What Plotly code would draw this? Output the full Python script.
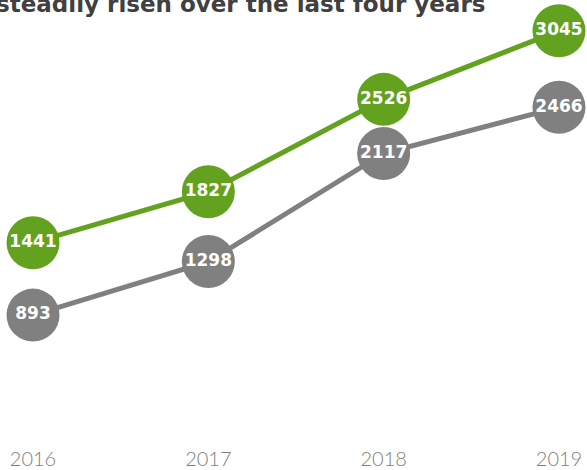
import plotly.graph_objects as go

years = [2016, 2017, 2018, 2019]
series_green = [1441, 1827, 2526, 3045]
series_gray = [893, 1298, 2117, 2466]
title_text = "steadily risen over the last four years"

GREEN = "#62a21f"
GRAY = "#808080"

fig = go.Figure()
for vals, col in [(series_gray, GRAY), (series_green, GREEN)]:
    fig.add_trace(go.Scatter(
        x=years, y=vals, mode="lines+markers+text",
        line=dict(color=col, width=5),
        marker=dict(color=col, size=53, line=dict(width=0)),
        text=[str(v) for v in vals], textposition="middle center",
        textfont=dict(color="white", size=17, family="DejaVu Sans", weight="bold"),
        cliponaxis=False, showlegend=False, hoverinfo="skip",
    ))

fig.add_annotation(
    text="<b>" + title_text + "</b>", xref="paper", yref="paper",
    x=487 / 587, y=1 - 4 / 448, xanchor="right", yanchor="middle",
    showarrow=False, font=dict(size=23, color="#404040", family="DejaVu Sans"),
)

fig.update_layout(
    width=587, height=470,
    margin=dict(l=0, r=0, t=0, b=22),
    paper_bgcolor="white", plot_bgcolor="white",
    xaxis=dict(range=[2016 - 33 / 175.3, 2019 + 28 / 175.3], tickvals=years,
               ticktext=[str(y) for y in years], showgrid=False, zeroline=False,
               showline=False, ticks="",
               tickfont=dict(size=20, color="#7f7f7f", family="Lato", weight=300)),
    yaxis=dict(range=[(436 - 448) / 0.133, 436 / 0.133], showgrid=False,
               zeroline=False, showline=False, showticklabels=False, ticks=""),
)

fig.write_html("out.html", config={"displayModeBar": False},
               post_script="document.body.style.margin='0';document.body.style.overflow='hidden';")
